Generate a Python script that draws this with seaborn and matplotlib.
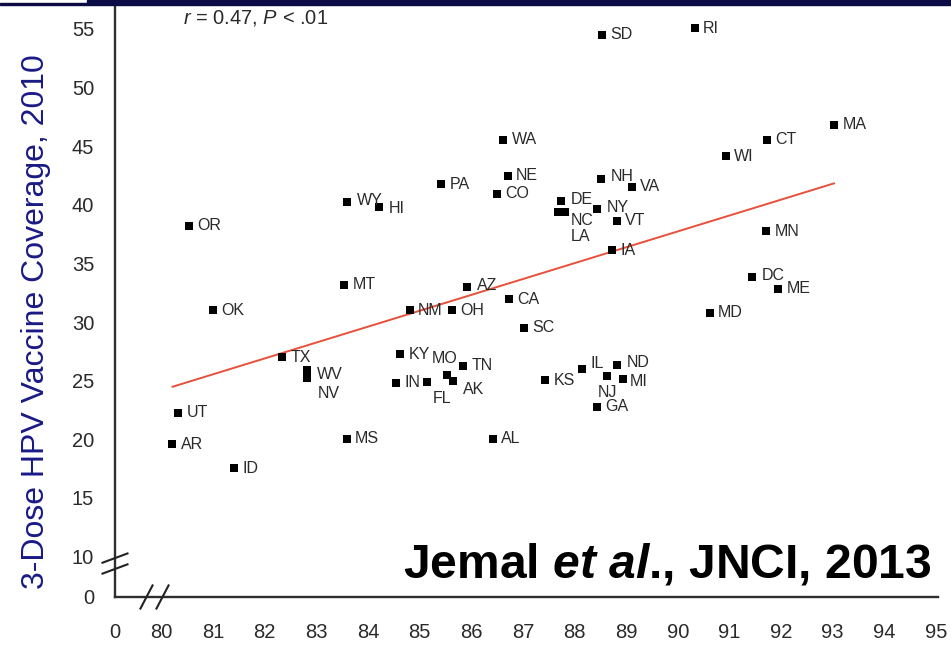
import matplotlib
matplotlib.use("Agg")
import matplotlib.pyplot as plt
import matplotlib.transforms as mtransforms
from matplotlib.patches import Rectangle
import pandas as pd
import seaborn as sns

# State-level Pap test screening prevalence (%) vs. 3-dose HPV vaccine coverage (%)
states = ["SD", "RI", "WA", "MA", "CT", "WI", "NE", "NH", "VA", "PA", "CO", "WY", "HI",
          "DE", "NY", "NC", "LA", "VT", "IA", "OR", "MN", "MT", "AZ", "CA", "DC", "ME",
          "OK", "NM", "OH", "MD", "SC", "TX", "KY", "MO", "AK", "TN", "FL", "IN", "WV",
          "NV", "KS", "IL", "NJ", "ND", "MI", "GA", "AL", "UT", "AR", "ID", "MS"]
pap_screening = [88.53, 90.33, 86.62, 93.03, 91.73, 90.93, 86.71, 88.51, 89.11, 85.42,
                 86.50, 83.59, 84.21, 87.74, 88.44, 87.82, 87.68, 88.82, 88.73, 80.54,
                 91.71, 83.54, 85.92, 86.73, 91.44, 91.94, 81.00, 84.81, 85.63, 90.62,
                 87.02, 82.34, 84.62, 85.53, 85.65, 85.84, 85.14, 84.54, 82.82, 82.82,
                 87.43, 88.15, 88.63, 88.82, 88.94, 88.44, 86.42, 80.32, 80.21, 81.41,
                 83.59]
hpv_coverage = [54.49, 55.08, 45.53, 46.81, 45.53, 44.16, 42.46, 42.20, 41.52, 41.77,
                40.92, 40.24, 39.81, 40.32, 39.64, 39.39, 39.39, 38.62, 36.14, 38.19,
                37.76, 33.16, 32.99, 31.96, 33.84, 32.82, 31.02, 31.02, 31.02, 30.77,
                29.49, 27.01, 27.27, 25.48, 24.97, 26.25, 24.88, 24.80, 25.90, 25.20,
                25.05, 25.99, 25.39, 26.33, 25.14, 22.75, 20.02, 22.24, 19.59, 17.54,
                20.02]

x_tick_values = list(range(80, 96))
y_tick_values = list(range(10, 56, 5))

# Visual placement of the broken-axis origin (where "0" sits on each axis)
X_ORIGIN = 79.10
Y_ORIGIN = 6.54

# Label offsets (points) for crowded state labels
label_offsets = {
    "NC": (4, -6), "LA": (9, -18), "WV": (7, -3), "NV": (8, -11), "FL": (4, -12),
    "AK": (7, -6), "MO": (-11, 12), "NJ": (-7, -12), "IL": (6, 4), "MI": (5, -1.5),
    "ND": (7, 2), "DC": (7, 1), "HI": (7, -1), "WY": (7, 1), "NH": (7, 2),
    "DE": (7, 1), "NY": (7, 1), "AZ": (7, 1),
}

df = pd.DataFrame({"state": states, "pap": pap_screening, "hpv": hpv_coverage})

sns.set_theme(style="white")
plt.rcParams["font.family"] = ["Liberation Sans", "DejaVu Sans"]
plt.rcParams["mathtext.fontset"] = "custom"
plt.rcParams["mathtext.rm"] = "Liberation Sans"
plt.rcParams["mathtext.it"] = "Liberation Sans:italic"
plt.rcParams["mathtext.bf"] = "Liberation Sans:bold"
plt.rcParams["mathtext.bfit"] = "Liberation Sans:bold:italic"

W, H = 951, 650
fig = plt.figure(figsize=(W / 100, H / 100), dpi=100)
ax = fig.add_axes([115 / W, 53 / H, (938 - 115) / W, 597 / H])

axis_color = "#2e2e2e"
text_color = "#2a2a2a"

sns.regplot(data=df, x="pap", y="hpv", scatter=False, ci=None, truncate=True,
            color="#e8503a", line_kws={"lw": 1.4, "zorder": 2}, ax=ax)
sns.scatterplot(data=df, x="pap", y="hpv", marker="s", s=32, color="black",
                edgecolor="none", legend=False, zorder=3, ax=ax)

for name, xv, yv in zip(states, pap_screening, hpv_coverage):
    dx, dy = label_offsets.get(name, (6, 0))
    ax.annotate(name, (xv, yv), xytext=(dx, dy), textcoords="offset points",
                ha="left", va="center", fontsize=11.5, color=text_color, zorder=4)

ax.set_xlim(X_ORIGIN, 95.04)
ax.set_ylim(Y_ORIGIN, 57.47)
ax.set_xticks([X_ORIGIN] + x_tick_values)
ax.set_xticklabels(["0"] + [str(v) for v in x_tick_values])
ax.set_yticks([Y_ORIGIN] + y_tick_values)
ax.set_yticklabels(["0"] + [str(v) for v in y_tick_values])
ax.set_xlabel("")
ax.set_ylabel("")

for side in ("top", "right"):
    ax.spines[side].set_visible(False)
for side in ("left", "bottom"):
    ax.spines[side].set_color(axis_color)
    ax.spines[side].set_linewidth(1.7)
ax.tick_params(axis="both", direction="out", length=10, width=1.7, color=axis_color,
               labelsize=14.5, labelcolor=text_color, pad=5)
ax.tick_params(axis="x", length=9.5, pad=9)


def axis_break(anchor_x, anchor_y, base, half_dx, half_dy):
    """Draw one slash of an axis-break symbol, sized in points around an anchor."""
    tr = (mtransforms.Affine2D().scale(fig.dpi / 72.0)
          + mtransforms.ScaledTranslation(anchor_x, anchor_y, base))
    ax.plot([-half_dx, half_dx], [-half_dy, half_dy], color="#222222", lw=1.5,
            transform=tr, clip_on=False, zorder=5, solid_capstyle="butt")


xbreak = ax.get_xaxis_transform()
ybreak = ax.get_yaxis_transform()
for xb in (79.71, 80.02):
    axis_break(xb, 0.0, xbreak, 4.7, 9.0)
for yb in (9.86, 8.93):
    axis_break(0.0, yb, ybreak, 9.7, 3.6)

ax.text(80.42, 55.95, r"$\mathit{r}$ = 0.47, $\mathit{P}$ < .01", fontsize=14.5,
        ha="left", va="center", color=text_color)
ax.text(84.68, 8.24, r"Jemal $\mathbfit{et\ al}$., JNCI, 2013", fontsize=34.6,
        fontweight="bold", ha="left", va="baseline", color="black")

fig.text(36 / W, 1 - 322 / H, "3-Dose HPV Vaccine Coverage, 2010", rotation=90,
         ha="center", va="center", fontsize=23, color="#1a1a85")

# Slide header strip
bar_color = "#0b0b45"
fig.patches.append(Rectangle((87 / W, 1 - 4.5 / H), 1 - 87 / W, 4.5 / H,
                             transform=fig.transFigure, color=bar_color, zorder=10))
fig.patches.append(Rectangle((0, 1 - 4.5 / H), 87 / W, 1.2 / H,
                             transform=fig.transFigure, color=bar_color, zorder=10))

fig.savefig("out.png", dpi=100)
